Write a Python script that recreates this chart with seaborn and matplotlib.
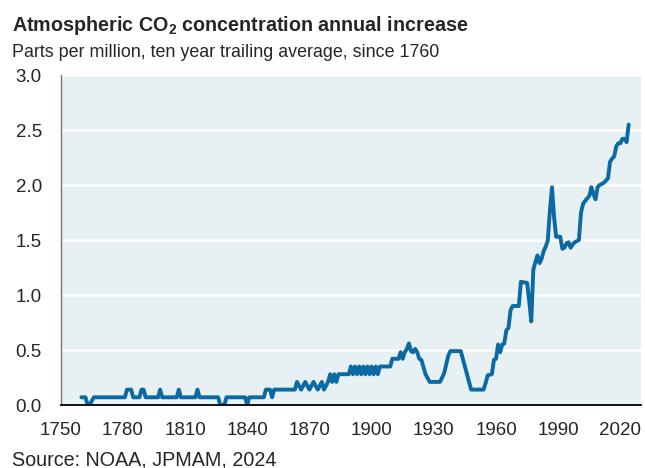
import numpy as np
import pandas as pd
import matplotlib
matplotlib.use('Agg')
import matplotlib.pyplot as plt
import seaborn as sns

# 10년 이동평균 CO2 농도 연간 증가분 (ppm) - 그림에서 읽은 꼭짓점
years = [1760, 1762, 1763, 1764, 1766, 1781, 1782, 1784, 1785, 1788, 1789, 1790, 1791,
         1797, 1798, 1799, 1806, 1807, 1808, 1815, 1816, 1817, 1826, 1827, 1829, 1830,
         1839, 1840, 1841, 1848, 1849, 1851, 1852, 1853, 1863,
         1864, 1866, 1868, 1870, 1872, 1874, 1876, 1877, 1879, 1880, 1881, 1882, 1883,
         1884, 1885, 1889,
         1890, 1891, 1892, 1893, 1894, 1895, 1896, 1897, 1898, 1899, 1900, 1901, 1902,
         1903, 1904, 1905, 1909, 1910, 1913, 1914, 1915, 1916, 1917, 1918, 1919, 1920,
         1921, 1922, 1923, 1924, 1926, 1928, 1933, 1935, 1937, 1938, 1943, 1944, 1948,
         1954, 1955, 1956, 1958, 1959, 1960, 1961, 1962, 1963, 1964, 1965, 1966, 1967,
         1968, 1971, 1972, 1975, 1976, 1977, 1978, 1979, 1980, 1981, 1982, 1983, 1984,
         1985, 1986, 1987, 1988, 1989, 1991, 1992, 1993, 1994, 1995, 1996, 1997, 1998,
         1999, 2000, 2001, 2002, 2004, 2005, 2006, 2007, 2008, 2009, 2010, 2012, 2014,
         2015, 2016, 2017, 2018, 2019, 2020, 2021, 2022, 2023, 2024]
values = [0.07, 0.07, 0.0, 0.0, 0.07, 0.07, 0.14, 0.14, 0.07, 0.07, 0.14, 0.14, 0.07,
          0.07, 0.14, 0.07, 0.07, 0.14, 0.07, 0.07, 0.14, 0.07, 0.07, 0.0, 0.0, 0.07,
          0.07, 0.0, 0.07, 0.07, 0.14, 0.14, 0.07, 0.14, 0.14,
          0.21, 0.14, 0.21, 0.14, 0.21, 0.14, 0.21, 0.14, 0.21, 0.28, 0.21, 0.28, 0.21,
          0.28, 0.28, 0.28,
          0.35, 0.28, 0.35, 0.28, 0.35, 0.28, 0.35, 0.28, 0.35, 0.28, 0.35, 0.28, 0.35,
          0.28, 0.35, 0.35, 0.35, 0.42, 0.42, 0.48, 0.42, 0.48, 0.51, 0.56, 0.49, 0.48,
          0.51, 0.48, 0.42, 0.41, 0.28, 0.21, 0.21, 0.29, 0.45, 0.49, 0.49, 0.42, 0.14,
          0.14, 0.20, 0.27, 0.28, 0.41, 0.42, 0.55, 0.48, 0.55, 0.56, 0.68, 0.70, 0.86,
          0.90, 0.90, 1.12, 1.11, 0.95, 0.76, 1.23, 1.30, 1.36, 1.29, 1.33, 1.40, 1.44,
          1.50, 1.77, 1.98, 1.71, 1.53, 1.53, 1.42, 1.43, 1.47, 1.48, 1.43, 1.46, 1.48,
          1.49, 1.50, 1.75, 1.83, 1.88, 1.90, 1.98, 1.92, 1.87, 1.98, 2.00, 2.02, 2.06,
          2.21, 2.24, 2.26, 2.35, 2.38, 2.38, 2.42, 2.42, 2.39, 2.55]

yticks = [0.0, 0.5, 1.0, 1.5, 2.0, 2.5, 3.0]
xticks = [1750, 1780, 1810, 1840, 1870, 1900, 1930, 1960, 1990, 2020]

df = pd.DataFrame({'year': years, 'ppm': values})

sns.set_style('white', {'axes.facecolor': '#E7F0F3'})
plt.rcParams['font.family'] = ['Liberation Sans', 'DejaVu Sans']
plt.rcParams['mathtext.fontset'] = 'custom'
plt.rcParams['mathtext.rm'] = 'Liberation Sans:bold'
plt.rcParams['mathtext.bf'] = 'Liberation Sans:bold'

fig = plt.figure(figsize=(6.45, 4.68), dpi=100)
ax = fig.add_axes([0.094, 0.1346, 0.900, 0.7051])

sns.lineplot(data=df, x='year', y='ppm', ax=ax, color='#0B69A3', linewidth=2.8)

ax.set_xlim(1750, 2030)
ax.set_ylim(0, 3.0)
ax.set_xticks(xticks)
ax.set_yticks(yticks)
ax.set_yticklabels([f'{v:.1f}' for v in yticks])
ax.set_xlabel('')
ax.set_ylabel('')
ax.grid(axis='y', color='white', linewidth=1.8)
ax.set_axisbelow(True)
ax.tick_params(axis='x', direction='out', length=5, width=1.2, color='black',
               labelsize=13.5, pad=7)
ax.tick_params(axis='y', direction='out', length=4, width=1, color='#555555',
               labelsize=13.5, pad=9.5)
for s in ['top', 'right']:
    ax.spines[s].set_visible(False)
ax.spines['bottom'].set_color('black')
ax.spines['bottom'].set_linewidth(1.3)
ax.spines['left'].set_color('#777777')
ax.spines['left'].set_linewidth(1.0)

fig.text(12 / 645, 1 - 31 / 468, r'Atmospheric CO$_2$ concentration annual increase',
         fontsize=14.2, fontweight='bold', va='baseline', ha='left')
fig.text(12 / 645, 1 - 57 / 468, 'Parts per million, ten year trailing average, since 1760',
         fontsize=12.9, va='baseline', ha='left')
fig.text(12 / 645, 1 - 465 / 468, 'Source: NOAA, JPMAM, 2024',
         fontsize=14.2, va='baseline', ha='left')

fig.savefig('out.png', dpi=100)
